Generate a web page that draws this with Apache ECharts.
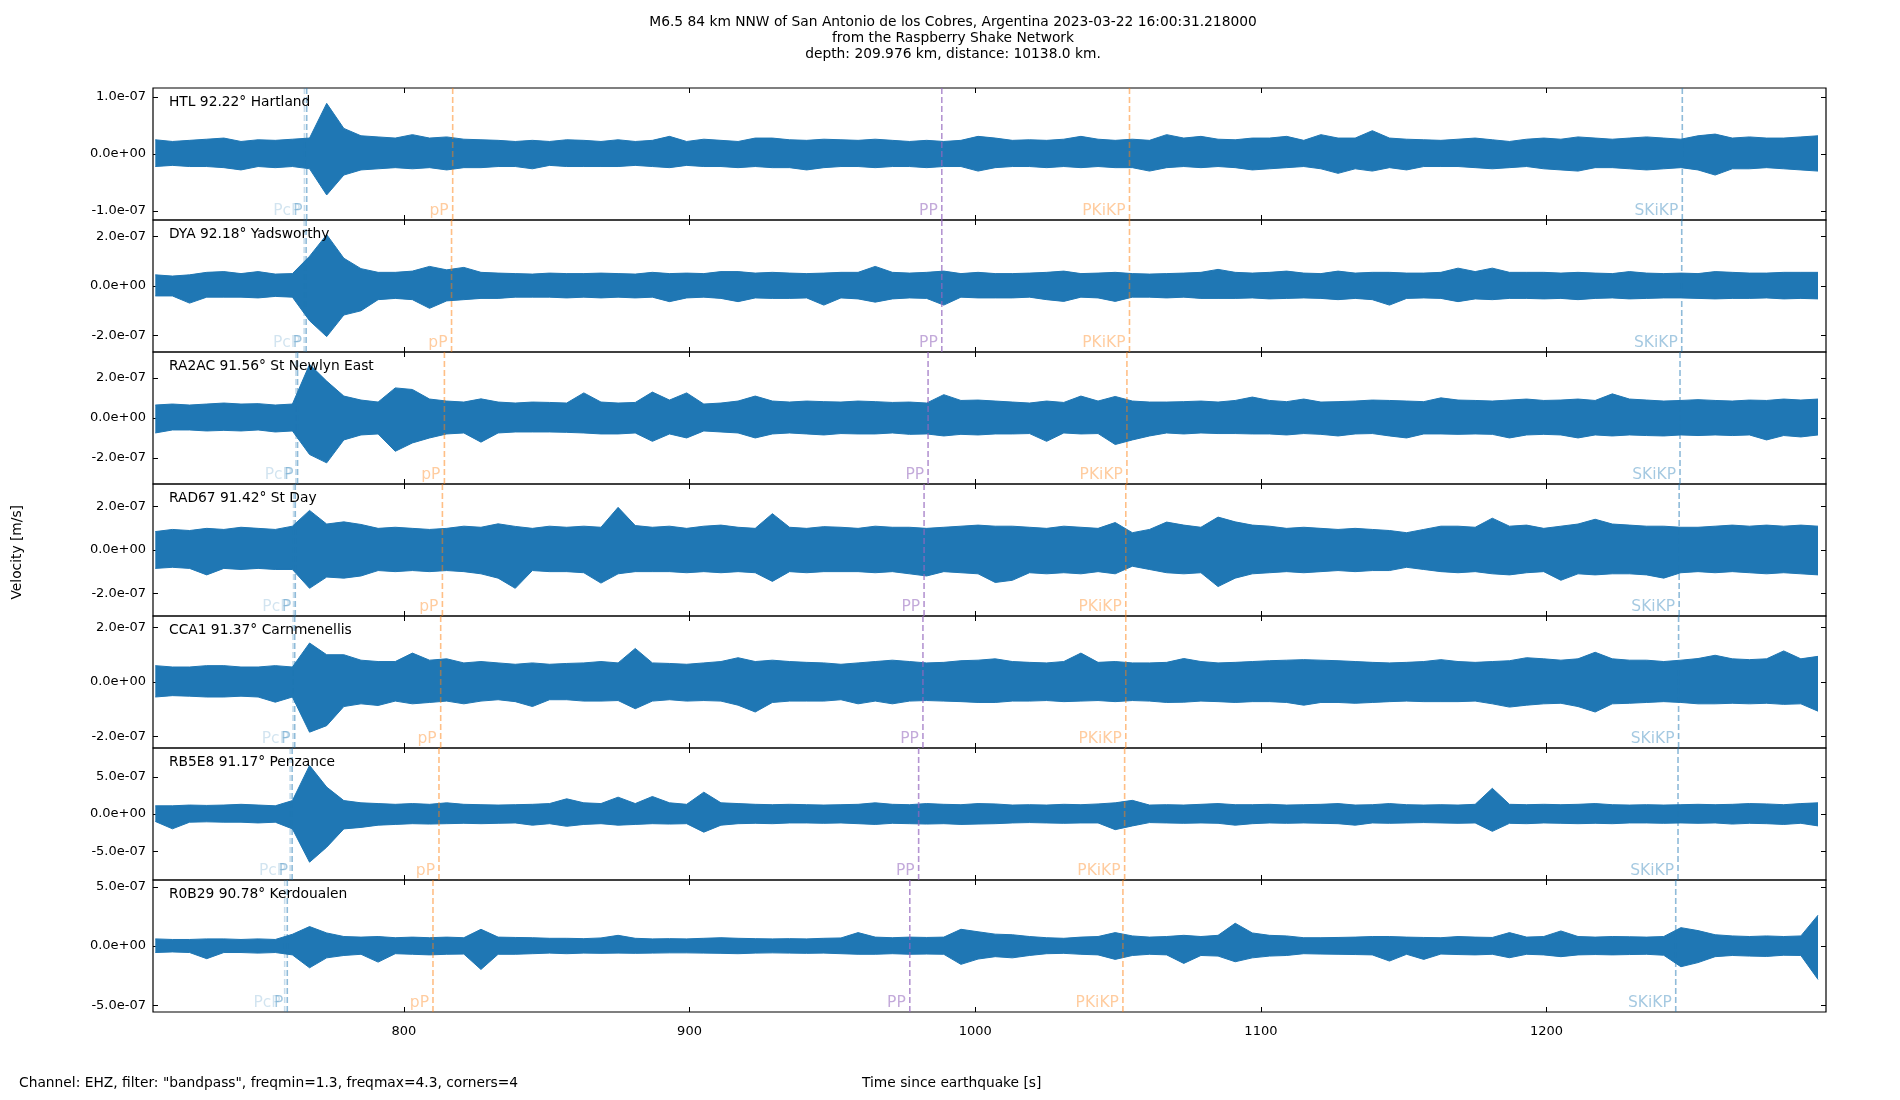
<!DOCTYPE html>
<html>
<head>
<meta charset="utf-8">
<script src="https://cdn.jsdelivr.net/npm/echarts@6/dist/echarts.min.js"></script>
<style>
  html, body { margin: 0; padding: 0; background: #fff; }
  #main { width: 1900px; height: 1100px; }
</style>
</head>
<body>
<div id="main"></div>
<script>
// ------------------------------
// Data (velocities in nm/s, peak per 6 s bin)
// ------------------------------
var stations = ['HTL 92.22° Hartland', 'DYA 92.18° Yadsworthy', 'RA2AC 91.56° St Newlyn East',
    'RAD67 91.42° St Day', 'CCA1 91.37° Carnmenellis', 'RB5E8 91.17° Penzance', 'R0B29 90.78° Kerdoualen'];
var binStart = 713, binStep = 6;
var xTicks = [800, 900, 1000, 1100, 1200];
var yLimits = [1.16e-7, 2.66e-7, 3.31e-7, 3.05e-7, 2.42e-7, 8.86e-7, 5.57e-7];
var yTicks = [[-1e-7, 0, 1e-7], [-2e-7, 0, 2e-7], [-2e-7, 0, 2e-7], [-2e-7, 0, 2e-7],
    [-2e-7, 0, 2e-7], [-5e-7, 0, 5e-7], [-5e-7, 0, 5e-7]];

var htlHi = [25,22,24,26,28,22,25,24,26,28, 89,45,32,30,28,34,28,30,26,25, 24,22,24,22,25,24,22,25,22,24,
    31,22,26,24,22,28,28,25,24,26, 25,24,26,24,22,24,22,24,31,28, 24,25,24,26,31,26,24,26,24,34,
    28,31,26,25,28,28,31,24,34,28, 28,41,28,26,25,24,26,28,25,22, 26,28,26,30,28,26,28,30,28,26, 32,35,28,30,28,28,30,32];
var htlLo = [-22,-20,-22,-22,-24,-28,-22,-24,-22,-26, -72,-37,-28,-26,-24,-26,-24,-28,-24,-24, -22,-22,-26,-20,-22,-22,-22,-22,-20,-22,
    -24,-20,-22,-22,-24,-22,-24,-24,-28,-24, -22,-22,-24,-22,-22,-24,-22,-22,-30,-24, -22,-22,-24,-22,-24,-22,-24,-24,-30,-24,
    -22,-24,-22,-24,-28,-26,-24,-22,-26,-34, -26,-30,-24,-28,-22,-22,-22,-24,-26,-24, -22,-26,-28,-30,-24,-24,-26,-28,-26,-24, -28,-37,-26,-26,-24,-26,-28,-30];

var dyaHi = [45,40,45,55,58,50,58,48,50,120, 207,112,70,55,55,60,79,65,75,55, 52,50,48,52,50,50,52,50,48,55,
    50,52,50,58,58,52,55,52,50,52, 55,55,79,55,52,55,60,50,55,50, 50,52,55,60,50,52,55,50,48,50,
    52,55,67,55,52,55,60,52,50,60, 52,55,55,52,52,55,72,58,72,55, 55,55,52,55,52,50,58,52,50,52, 50,58,55,52,52,55,55,55];
var dyaLo = [-40,-40,-69,-45,-45,-45,-48,-42,-45,-140, -204,-117,-100,-55,-50,-55,-90,-60,-55,-50, -50,-45,-45,-45,-48,-45,-48,-45,-48,-45,
    -63,-48,-45,-50,-63,-48,-50,-50,-48,-77, -48,-52,-65,-52,-48,-50,-77,-45,-48,-48, -48,-45,-55,-62,-45,-48,-62,-45,-45,-48,
    -45,-50,-50,-50,-48,-52,-50,-48,-50,-55, -50,-55,-77,-50,-48,-50,-63,-52,-55,-50, -50,-52,-50,-55,-50,-48,-52,-50,-48,-48, -50,-52,-50,-50,-48,-52,-50,-52];

var ra2acHi = [65,70,65,70,75,70,72,65,70,269, 185,110,90,80,151,143,95,85,80,96, 80,75,80,78,75,126,80,75,78,130,
    90,126,70,75,85,110,85,80,85,82, 80,85,82,78,80,75,117,88,90,85, 80,75,85,78,110,85,108,85,80,80,
    82,85,80,88,105,88,82,95,80,82, 85,90,88,85,82,101,90,88,85,90, 95,88,90,95,88,121,95,90,85,88, 92,88,85,90,88,95,90,95];
var ra2acLo = [-75,-60,-60,-65,-62,-65,-60,-70,-65,-183, -225,-110,-85,-80,-167,-125,-100,-80,-75,-121, -75,-70,-70,-70,-72,-75,-80,-80,-75,-117,
    -80,-100,-65,-70,-75,-100,-80,-75,-80,-85, -78,-80,-80,-75,-82,-80,-90,-82,-85,-80, -80,-78,-117,-75,-80,-78,-133,-110,-90,-75,
    -80,-75,-78,-78,-80,-80,-85,-78,-82,-90, -80,-78,-90,-100,-80,-80,-82,-80,-82,-100, -85,-82,-85,-100,-85,-90,-85,-88,-90,-85, -88,-85,-88,-85,-110,-88,-95,-85];

var rad67Hi = [85,95,90,100,95,105,100,95,110,183, 120,130,118,100,105,100,95,100,110,105, 121,109,100,110,105,110,105,197,113,105,
    110,100,110,115,105,100,168,105,100,108, 105,100,110,105,105,100,105,110,115,110, 110,105,100,110,105,100,127,80,95,129,
    115,105,152,130,115,110,100,105,100,95, 100,95,90,80,95,110,110,105,147,110, 115,100,110,120,142,120,115,110,110,105, 105,110,115,110,115,110,115,110];
var rad67Lo = [-85,-80,-85,-115,-85,-90,-85,-90,-90,-177, -125,-130,-120,-95,-100,-95,-100,-95,-100,-110, -130,-177,-95,-100,-100,-105,-153,-110,-100,-100,
    -100,-105,-100,-105,-100,-105,-145,-100,-105,-100, -100,-100,-105,-100,-110,-120,-100,-105,-110,-150, -140,-105,-110,-105,-110,-100,-110,-75,-90,-105,
    -110,-105,-169,-130,-110,-105,-100,-105,-100,-95, -100,-95,-95,-80,-90,-100,-105,-100,-110,-115, -105,-100,-140,-110,-115,-110,-110,-115,-130,-105, -100,-105,-100,-105,-110,-105,-110,-115];

var cca1Hi = [60,55,55,60,60,55,55,60,55,143, 100,100,80,75,75,106,80,85,70,75, 70,65,70,65,68,70,75,70,123,70,
    68,65,70,75,89,75,80,75,72,70, 65,70,75,80,75,70,72,78,80,85, 75,72,70,75,106,72,75,70,70,72,
    86,75,70,72,75,78,80,82,80,78, 75,72,70,72,75,82,75,72,75,78, 89,85,80,85,109,85,80,80,75,80, 86,98,85,82,85,114,85,94];
var cca1Lo = [-55,-50,-52,-55,-55,-52,-55,-74,-55,-184, -160,-90,-80,-86,-70,-80,-75,-70,-80,-70, -65,-72,-90,-65,-65,-70,-70,-68,-98,-70,
    -65,-70,-68,-70,-85,-110,-75,-70,-70,-70, -65,-80,-70,-80,-70,-68,-70,-72,-75,-75, -70,-70,-68,-72,-70,-68,-72,-68,-70,-75,
    -74,-70,-72,-75,-72,-72,-75,-85,-75,-75, -78,-75,-72,-70,-72,-72,-72,-70,-80,-92, -85,-80,-78,-90,-110,-80,-78,-75,-72,-75, -80,-80,-78,-80,-78,-82,-80,-107];

var rb5e8Hi = [110,110,120,115,120,130,120,110,180,652, 361,180,150,140,130,140,130,150,130,125, 120,125,130,140,204,150,140,226,140,235,
    150,130,293,150,140,130,125,130,125,120, 125,130,150,130,125,140,130,125,140,135, 120,125,120,130,125,135,150,183,120,125,
    120,130,140,125,125,130,120,125,130,140, 120,125,140,125,120,125,120,130,345,130, 125,130,125,130,140,125,120,125,120,125, 130,125,130,140,135,125,140,150];
var rb5e8Lo = [-100,-199,-110,-105,-110,-110,-120,-110,-200,-647, -446,-200,-180,-150,-140,-130,-135,-130,-125,-130, -125,-120,-150,-130,-165,-140,-130,-150,-140,-130,
    -135,-130,-244,-150,-130,-125,-130,-120,-120,-125, -120,-130,-140,-125,-130,-135,-130,-140,-135,-130, -120,-115,-120,-125,-120,-120,-210,-160,-115,-120,
    -125,-120,-125,-150,-130,-120,-125,-120,-125,-130, -150,-120,-125,-120,-115,-120,-125,-120,-233,-125, -130,-120,-125,-130,-125,-130,-120,-120,-125,-120, -125,-120,-135,-125,-130,-140,-125,-160];

var r0b29Hi = [60,55,55,60,60,55,60,55,99,164, 110,80,75,80,70,75,70,75,70,141, 75,72,70,65,65,62,68,90,65,60,
    62,60,65,70,65,62,60,62,60,65, 68,113,75,70,75,72,75,141,120,100, 95,80,70,65,75,80,113,85,75,80,
    90,80,90,192,110,90,85,70,70,72, 75,80,80,75,72,70,80,75,72,113, 75,80,127,80,75,80,78,75,80,155, 130,95,85,80,85,80,85,260];
var r0b29Lo = [-55,-50,-55,-107,-55,-55,-60,-55,-75,-184, -100,-80,-70,-136,-65,-70,-75,-70,-68,-198, -70,-70,-65,-60,-65,-60,-62,-60,-62,-60,
    -58,-58,-60,-62,-65,-60,-58,-60,-62,-60, -65,-70,-70,-65,-70,-68,-70,-155,-110,-90, -100,-80,-65,-62,-70,-75,-113,-80,-70,-75,
    -147,-80,-85,-133,-100,-85,-80,-65,-68,-70, -72,-75,-127,-70,-113,-68,-72,-75,-70,-99, -70,-75,-90,-75,-72,-75,-72,-70,-78,-175, -140,-90,-80,-85,-88,-78,-80,-282];

var traceHi = [htlHi, dyaHi, ra2acHi, rad67Hi, cca1Hi, rb5e8Hi, r0b29Hi];
var traceLo = [htlLo, dyaLo, ra2acLo, rad67Lo, cca1Lo, rb5e8Lo, r0b29Lo];

// phase arrival times [s], one per station
var phaseNames = ['PcP', 'P', 'pP', 'PP', 'PKiKP', 'SKiKP'];
var pcpTimes = [765.2, 765.1, 762.2, 761.4, 761.2, 760.2, 758.3];
var pTimes = [766.0, 765.8, 762.8, 762.0, 761.8, 760.9, 759.2];
var depthPTimes = [817.1, 816.7, 814.2, 813.5, 812.9, 812.3, 810.2];
var ppTimes = [988.3, 988.3, 983.5, 982.1, 981.7, 980.2, 977.1];
var pkikpTimes = [1054.0, 1054.0, 1053.1, 1052.7, 1052.7, 1052.3, 1051.7];
var skikpTimes = [1247.5, 1247.3, 1246.7, 1246.4, 1246.2, 1246.0, 1245.2];
var phaseTimes = [pcpTimes, pTimes, depthPTimes, ppTimes, pkikpTimes, skikpTimes];
var phaseColors = ['rgba(31,119,180,0.25)', 'rgba(31,119,180,0.5)', 'rgba(255,127,14,0.5)',
    'rgba(148,103,189,0.7)', 'rgba(255,127,14,0.5)', 'rgba(31,119,180,0.5)'];

// ------------------------------
// Layout
// ------------------------------
var XMIN = 712.2, XMAX = 1297.8;
var plotLeft = 153, plotWidth = 1673, panelTop = 88, panelHeight = 132;
var FONT = 'DejaVu Sans';

function fmtExp(v) {
    return v.toExponential(1).replace(/e([+-])(\d+)$/, function (m, s, d) {
        return 'e' + s + (d.length < 2 ? '0' + d : d);
    });
}

// envelope line, one vertex per bin
function envelope(vals) {
    return vals.map(function (v, i) { return [binStart + binStep * i, v * 1e-9]; });
}

var chart = echarts.init(document.getElementById('main'));

var grids = [], xAxes = [], yAxes = [], series = [];
var titles = [{
    text: 'M6.5 84 km NNW of San Antonio de los Cobres, Argentina 2023-03-22 16:00:31.218000\nfrom the Raspberry Shake Network\ndepth: 209.976 km, distance: 10138.0 km.',
    left: 948, top: 9, textAlign: 'center',
    textStyle: { fontFamily: FONT, fontSize: 13.8, fontWeight: 'normal', color: '#000', lineHeight: 16, align: 'center' }
}];

for (var k = 0; k < stations.length; k++) {
    var panelY = panelTop + k * panelHeight;
    var lim = yLimits[k];
    var isLast = k === stations.length - 1;

    grids.push({ left: plotLeft, width: plotWidth, top: panelY, height: panelHeight,
        show: true, borderColor: '#000', borderWidth: 1.2, backgroundColor: 'transparent' });

    titles.push({ text: stations[k], left: 164, top: panelY + 2,
        textStyle: { fontFamily: FONT, fontSize: 13.8, fontWeight: 'normal', color: '#000' } });

    ['bottom', 'top'].forEach(function (pos, j) {
        xAxes.push({
            type: 'value', gridIndex: k, position: pos, min: XMIN, max: XMAX,
            axisLine: { show: false, onZero: false }, splitLine: { show: false },
            axisTick: { show: true, inside: true, length: 5, customValues: xTicks, lineStyle: { color: '#000' } },
            axisLabel: { show: isLast && j === 0, customValues: xTicks, margin: 13,
                formatter: function (v) { return String(v); },
                fontFamily: FONT, fontSize: 13, color: '#000' }
        });
    });
    ['left', 'right'].forEach(function (pos, j) {
        yAxes.push({
            type: 'value', gridIndex: k, position: pos, min: -lim, max: lim,
            axisLine: { show: false, onZero: false }, splitLine: { show: false },
            axisTick: { show: true, inside: true, length: 5, customValues: yTicks[k], lineStyle: { color: '#000' } },
            axisLabel: { show: j === 0, customValues: yTicks[k], margin: 7, formatter: fmtExp,
                fontFamily: FONT, fontSize: 13, color: '#000' }
        });
    });

    // waveform: filled band between the lower and upper peak envelopes
    [traceHi[k], traceLo[k]].forEach(function (vals) {
        series.push({
            type: 'line', xAxisIndex: 2 * k, yAxisIndex: 2 * k,
            data: envelope(vals),
            showSymbol: false, symbol: 'none', silent: true, z: 2,
            lineStyle: { color: '#1f77b4', width: 1 },
            areaStyle: { color: '#1f77b4', opacity: 1, origin: 0 }
        });
    });

    // phase markers
    var labelPts = [];
    for (var p = 0; p < phaseNames.length; p++) {
        var t = phaseTimes[p][k];
        series.push({
            type: 'line', xAxisIndex: 2 * k, yAxisIndex: 2 * k,
            data: [[t, -lim], [t, lim]], showSymbol: false, symbol: 'none', silent: true, z: 3,
            lineStyle: { color: phaseColors[p], width: 1.6, type: [6, 3] }
        });
        labelPts.push({
            value: [t, -lim * (1 - 18 / panelHeight)], name: phaseNames[p],
            label: { color: phaseColors[p] }
        });
    }
    series.push({
        type: 'scatter', xAxisIndex: 2 * k, yAxisIndex: 2 * k, symbolSize: 0, silent: true, z: 4,
        data: labelPts,
        label: { show: true, position: 'left', distance: 4, formatter: '{b}',
            fontFamily: FONT, fontSize: 15.5 }
    });
}

var option = {
    animation: false,
    backgroundColor: '#fff',
    title: titles,
    grid: grids,
    xAxis: xAxes,
    yAxis: yAxes,
    series: series,
    graphic: [
        { type: 'text', left: 10, top: 505, rotation: Math.PI / 2,
          style: { text: 'Velocity [m/s]', font: '13.8px "DejaVu Sans"', fill: '#000' } },
        { type: 'text', left: 19, top: 1076,
          style: { text: 'Channel: EHZ, filter: "bandpass", freqmin=1.3, freqmax=4.3, corners=4', font: '13.8px "DejaVu Sans"', fill: '#000' } },
        { type: 'text', left: 862, top: 1076,
          style: { text: 'Time since earthquake [s]', font: '13.8px "DejaVu Sans"', fill: '#000' } }
    ]
};

chart.setOption(option);

window.addEventListener('resize', function () {
    setTimeout(function () { chart.resize(); }, 200);
});
</script>
</body>
</html>
